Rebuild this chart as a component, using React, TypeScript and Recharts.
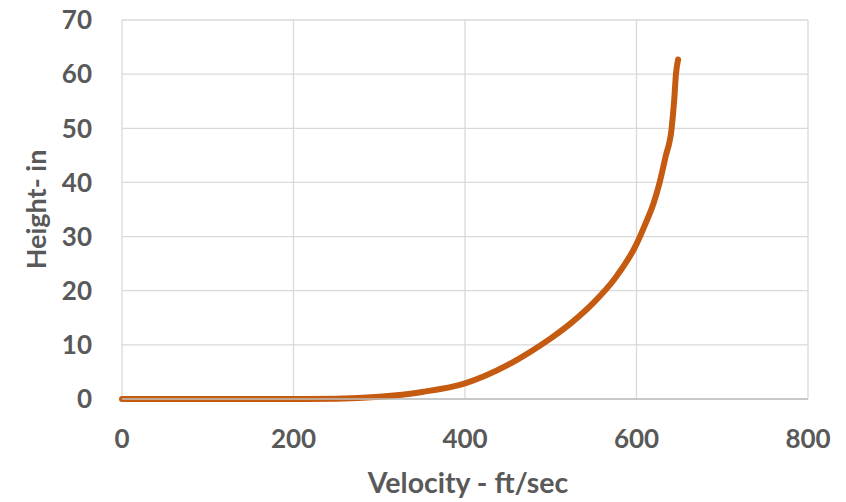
import React from 'react';
import { LineChart, Line, XAxis, YAxis, CartesianGrid, Label } from 'recharts';

const velocity = [0, 50, 100, 150, 200, 250, 300, 350, 400, 450, 475, 500, 525, 550, 575, 600, 610, 620, 627, 634, 641, 644, 646, 648.5];
const height = [0, 0, 0, 0, 0, 0.05, 0.4, 1.3, 2.9, 6.3, 8.6, 11.2, 14.2, 17.8, 22.3, 28.6, 32.2, 36.2, 40, 44.8, 50, 55.3, 60, 62.7];
const xTicks = [0, 200, 400, 600, 800];
const yTicks = [0, 10, 20, 30, 40, 50, 60, 70];

const data = velocity.map((v, i) => ({ v, h: height[i] }));

const FONT = 'Lato, "Open Sans", sans-serif';
const tickStyle = { fill: '#595959', fontSize: 26, fontWeight: 700, fontFamily: FONT };

const App: React.FC = () => {
  return (
    <div style={{ position: 'absolute', left: 0, top: 0 }}>
      <LineChart width={846} height={502} data={data} margin={{ top: 20, right: 38, bottom: 0, left: 0 }}>
        <CartesianGrid stroke="#d9d9d9" strokeWidth={1.3} horizontalValues={yTicks} verticalValues={xTicks} />
        <XAxis
          dataKey="v"
          type="number"
          domain={[0, 800]}
          ticks={xTicks}
          height={103}
          axisLine={{ stroke: '#bfbfbf', strokeWidth: 1.5 }}
          tickLine={false}
          tickMargin={25}
          tick={tickStyle}
        >
          <Label
            value="Velocity - ft/sec"
            position="insideBottom"
            offset={9}
            dx={3}
            style={{ fill: '#595959', fontSize: 28.5, fontWeight: 700, fontFamily: FONT }}
          />
        </XAxis>
        <YAxis
          type="number"
          domain={[0, 70]}
          ticks={yTicks}
          width={122}
          axisLine={false}
          tickLine={false}
          tickMargin={24}
          tick={tickStyle}
        >
          <Label
            content={({ viewBox }: any) => (
              <text
                x={viewBox.x + 35}
                y={viewBox.y + viewBox.height / 2}
                transform={`rotate(-90, ${viewBox.x + 35}, ${viewBox.y + viewBox.height / 2})`}
                textAnchor="middle"
                dominantBaseline="central"
                fill="#595959"
                fontSize={27}
                fontWeight={700}
                fontFamily={FONT}
              >
                Height- in
              </text>
            )}
          />
        </YAxis>
        <Line
          dataKey="h"
          type="monotone"
          stroke="#C55A11"
          strokeWidth={6}
          strokeLinecap="round"
          dot={false}
          isAnimationActive={false}
        />
      </LineChart>
    </div>
  );
};

export default App;
